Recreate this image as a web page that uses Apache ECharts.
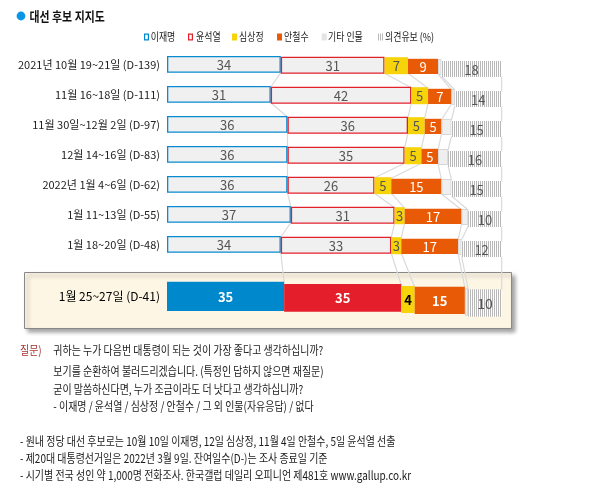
<!DOCTYPE html>
<html><head><meta charset="utf-8">
<script src="https://cdn.jsdelivr.net/npm/echarts@6/dist/echarts.min.js"></script>
<style>html,body{margin:0;padding:0;background:#fff}#c{width:601px;height:495px}</style>
</head><body><div id="c"></div>
<script>
// ---------- data ----------
const rowLabels = ['2021년 10월 19~21일 (D-139)','11월 16~18일 (D-111)','11월 30일~12월 2일 (D-97)','12월 14~16일 (D-83)','2022년 1월 4~6일 (D-62)','1월 11~13일 (D-55)','1월 18~20일 (D-48)'];
const latestLabel = ['1월 25~27일 (D-41)'];
const seriesNames = ['이재명','윤석열','심상정','안철수','기타 인물','의견유보'];
const leeJM     = [34,31,36,36,36,37,34];
const yoonSY    = [31,42,36,35,26,31,33];
const simSJ     = [7,5,5,5,5,3,3];
const ahnCS     = [9,7,5,5,15,17,17];
const others    = [1,1,3,3,3,2,1];
const undecided = [18,14,15,16,15,10,12];
const latest    = [35,35,4,15,1,10];   // 이재명, 윤석열, 심상정, 안철수, 기타, 의견유보
const topValues = [leeJM, yoonSY, simSJ, ahnCS, others, undecided];

// ---------- styles ----------
const FONT = '"Noto Sans CJK KR", "Noto Sans", sans-serif';
const hc = document.createElement('canvas'); hc.width = 2; hc.height = 4;
const hctx = hc.getContext('2d');
hctx.fillStyle = '#ffffff'; hctx.fillRect(0,0,2,4);
hctx.fillStyle = '#b8b8b8'; hctx.fillRect(0,0,1,4);
const hatch = {image: hc, repeat: 'repeat'};

const BLUE = '#0a8ad0', RED = '#e2202c', YEL = '#f7d30a', ORA = '#e85a06';
const topStyle = [
  {dy:0,   h:16.7, fill:'#f0f0f0', stroke:BLUE, lw:1.3, tc:'#555', font:'13px '+FONT},
  {dy:0.7, h:17,   fill:'#f0f0f0', stroke:RED,  lw:1.3, tc:'#555', font:'13px '+FONT},
  {dy:1.2, h:17,   fill:YEL, tc:'#555', font:'13px '+FONT},
  {dy:2.8, h:15.2, fill:ORA, tc:'#fff', font:'13px '+FONT},
  {dy:3,   h:16,   fill:'#efefef', stroke:'#d6d6d6', lw:1, nolabel:true},
  {dy:5,   h:16,   fill:hatch, tc:'#555', font:'13px '+FONT, dyText:1}
];
const lastStyle = [
  {dy:0,   h:29.3, fill:'#0088cc', tc:'#fff', font:'bold 13px '+FONT},
  {dy:2.3, h:27.7, fill:'#e41f2b', tc:'#fff', font:'bold 13px '+FONT},
  {dy:4.3, h:27,   fill:YEL, tc:'#000', font:'bold 13px '+FONT},
  {dy:5,   h:27.3, fill:ORA, tc:'#fff', font:'bold 13px '+FONT},
  {dy:6.6, h:27.4, fill:'#efefef', stroke:'#d0d0d0', lw:1, nolabel:true},
  {dy:7.6, h:27.4, fill:hatch, tc:'#555', font:'14px '+FONT}
];
const BASE = [8.5, 14.65];

function rowVals(g, r) { return g === 0 ? topValues.map(a => a[r]) : latest; }

function makeSeries(s, g) {
  const rows = g === 0 ? rowLabels.length : 1;
  const data = [];
  for (let r = 0; r < rows; r++) {
    const v = rowVals(g, r);
    let start = 0; for (let k = 0; k < s; k++) start += v[k];
    data.push([start, start + v[s], r, v[s]]);
  }
  const st = (g === 0 ? topStyle : lastStyle)[s];
  return {
    type: 'custom', name: seriesNames[s], xAxisIndex: g, yAxisIndex: g, z: 5,
    encode: {x: [0, 1], y: 2}, data: data,
    renderItem: function (params, api) {
      const p0 = api.coord([api.value(0), api.value(2)]);
      const p1 = api.coord([api.value(1), api.value(2)]);
      const w = p1[0] - p0[0];
      const y = p0[1] - BASE[g] + st.dy;
      const lw = st.stroke ? st.lw : 0;
      const children = [{
        type: 'rect',
        shape: {x: p0[0] + lw/2, y: y + lw/2, width: Math.max(w - lw, 0.5), height: st.h - lw},
        style: {fill: st.fill, stroke: st.stroke || null, lineWidth: lw}
      }];
      if (!st.nolabel) {
        children.push({type: 'text', style: {
          text: String(api.value(3)), x: p0[0] + w/2, y: y + st.h/2 + (st.dyText || 0) + 0.5,
          align: 'center', verticalAlign: 'middle', fill: st.tc, font: st.font}});
      }
      return {type: 'group', children: children};
    }
  };
}

const series = [];
for (let g = 0; g < 2; g++) for (let s = 0; s < 6; s++) series.push(makeSeries(s, g));

const GL = 167, GR = 601 - 501.7;
const option = {
  animation: false,
  textStyle: {fontFamily: FONT},
  grid: [
    {left: GL, right: GR, top: 49.5, height: 210},
    {left: GL, right: GR, top: 276.35, height: 40}
  ],
  xAxis: [
    {gridIndex: 0, type: 'value', min: 0, max: 100, show: false},
    {gridIndex: 1, type: 'value', min: 0, max: 100, show: false}
  ],
  yAxis: [
    {gridIndex: 0, type: 'category', data: rowLabels, inverse: true,
     axisLine: {show: false}, axisTick: {show: false}, splitLine: {show: false},
     axisLabel: {fontSize: 11, color: '#222', margin: 7, fontFamily: FONT}},
    {gridIndex: 1, type: 'category', data: latestLabel, inverse: true,
     axisLine: {show: false}, axisTick: {show: false}, splitLine: {show: false},
     axisLabel: {fontSize: 12, color: '#000', margin: 7, fontFamily: FONT}}
  ],
  series: series
};

const chart = echarts.init(document.getElementById('c'), null, {renderer: 'canvas'});
chart.setOption(option);

// ---------- connectors between consecutive rows (computed through the axes) ----------
function rowGeom(g, r) {
  const v = rowVals(g, r);
  const st = g === 0 ? topStyle : lastStyle;
  const cy = chart.convertToPixel({gridIndex: g}, [0, r])[1];
  const segs = [];
  let cum = 0;
  for (let k = 0; k < 6; k++) {
    const top = cy - BASE[g] + st[k].dy;
    segs.push({top: top, bottom: top + st[k].h});
  }
  const bx = [];
  for (let k = 0; k < 6; k++) {
    cum += v[k];
    const x = chart.convertToPixel({gridIndex: g}, [cum, r])[0];
    const a = segs[k], b = segs[Math.min(k + 1, 5)];
    bx.push({x: x, top: Math.min(a.top, b.top) + 1, bottom: Math.max(a.bottom, b.bottom) - 1});
  }
  return bx;
}
const geoms = [];
for (let r = 0; r < rowLabels.length; r++) geoms.push(rowGeom(0, r));
geoms.push(rowGeom(1, 0));
const connectors = [];
for (let i = 0; i < geoms.length - 1; i++) {
  for (let k = 0; k < 6; k++) {
    const a = geoms[i][k], b = geoms[i + 1][k];
    connectors.push({type: 'line', z: 1, shape: {x1: a.x, y1: a.bottom, x2: b.x, y2: b.top},
      style: {stroke: '#dadada', lineWidth: 1.2}});
  }
}

// ---------- static text / decorations ----------
function txt(text, x, y, o) {
  o = o || {};
  return {type: 'text', x: x, y: y, scaleX: o.sx == null ? 0.83 : o.sx, z: 10,
    style: {text: text, font: o.font || ('12px ' + FONT), fill: o.fill || '#1a1a1a',
      align: 'left', verticalAlign: 'middle'}};
}
const legendItems = [
  {name: '이재명', ix: 144, tx: 150.7, fill: '#fff', stroke: '#0088cc'},
  {name: '윤석열', ix: 188, tx: 196, fill: '#fff', stroke: '#e2202c'},
  {name: '심상정', ix: 232, tx: 239, fill: YEL},
  {name: '안철수', ix: 277, tx: 284, fill: ORA},
  {name: '기타 인물', ix: 321.7, tx: 328, fill: '#e4e4e4'},
  {name: '의견유보 (%)', ix: 378, tx: 385, fill: hatch}
];
const statics = [];
statics.push({type: 'rect', z: 0, shape: {x: 24.5, y: 272.5, width: 487, height: 56},
  style: {fill: '#fdf6e5', stroke: '#888', lineWidth: 1, shadowBlur: 4, shadowOffsetX: 3, shadowOffsetY: 3, shadowColor: 'rgba(0,0,0,0.35)'}});
statics.push({type: 'circle', z: 10, shape: {cx: 21, cy: 16, r: 4.4}, style: {fill: '#0a96e6'}});
statics.push(txt('대선 후보 지지도', 29.5, 15.8, {font: 'bold 13px ' + FONT, fill: '#111', sx: 0.84}));
legendItems.forEach(function (it) {
  const lw = it.stroke ? 1.2 : 0;
  statics.push({type: 'rect', z: 10, shape: {x: it.ix + lw/2, y: 33.5 + lw/2, width: 5 - lw, height: 7 - lw},
    style: {fill: it.fill, stroke: it.stroke || null, lineWidth: lw}});
  statics.push(txt(it.name, it.tx, 37.3, {font: '11px ' + FONT, fill: '#1a1a1a', sx: 0.81}));
});
statics.push(txt('질문)', 20, 350.5, {fill: '#a83232'}));
const qLines = ['귀하는 누가 다음번 대통령이 되는 것이 가장 좋다고 생각하십니까?',
  '보기를 순환하여 불러드리겠습니다. (특정인 답하지 않으면 재질문)',
  '굳이 말씀하신다면, 누가 조금이라도 더 낫다고 생각하십니까?',
  '- 이재명 / 윤석열 / 심상정 / 안철수 / 그 외 인물(자유응답) / 없다'];
const qY = [350.5, 371, 389, 406.5];
qLines.forEach(function (t, i) { statics.push(txt(t, 53.3, qY[i])); });
const notes = ['- 원내 정당 대선 후보로는 10월 10일 이재명, 12일 심상정, 11월 4일 안철수, 5일 윤석열 선출',
  '- 제20대 대통령선거일은 2022년 3월 9일. 잔여일수(D-)는 조사 종료일 기준',
  '- 시기별 전국 성인 약 1,000명 전화조사. 한국갤럽 데일리 오피니언 제481호 www.gallup.co.kr'];
const nY = [441, 458.5, 475];
notes.forEach(function (t, i) { statics.push(txt(t, 20, nY[i])); });

chart.setOption({graphic: [{elements: statics.concat(connectors)}]});
</script>
</body></html>
